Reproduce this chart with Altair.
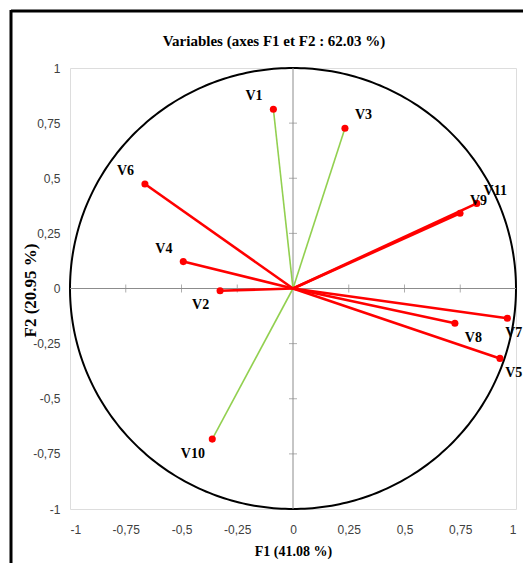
import altair as alt
import pandas as pd
import numpy as np

# ---- data ----
names = ["V1", "V2", "V3", "V4", "V5", "V6", "V7", "V8", "V9", "V10", "V11"]
f1 = [-0.088, -0.327, 0.233, -0.492, 0.928, -0.664, 0.961, 0.726, 0.749, -0.362, 0.824]
f2 = [0.813, -0.010, 0.727, 0.122, -0.317, 0.474, -0.135, -0.158, 0.341, -0.683, 0.386]
kind = ["g", "r", "g", "r", "r", "r", "r", "r", "r", "g", "r"]
axis_ticks = [-1, -0.75, -0.5, -0.25, 0, 0.25, 0.5, 0.75, 1]
inner_ticks = [-0.75, -0.5, -0.25, 0.25, 0.5, 0.75]

title = "Variables (axes F1 et F2 : 62.03 %)"
x_title = "F1 (41.08 %)"
y_title = "F2 (20.95 %)"

df = pd.DataFrame({"name": names, "f1": f1, "f2": f2, "kind": kind})

# unit circle (geometric reference, not data)
theta = np.linspace(0, 2 * np.pi, 361)
circle = pd.DataFrame({"cx": np.cos(theta), "cy": np.sin(theta), "o": np.arange(361)})
ticks_df = pd.DataFrame({"t": inner_ticks})

serif = "Liberation Serif"
sans = "Liberation Sans Narrow, Liberation Sans, Arial"
lab_expr = "replace(toString(datum.value), '.', ',')"

xscale = alt.Scale(domain=[-1, 1], nice=False, zero=False)
yscale = alt.Scale(domain=[-1, 1], nice=False, zero=False)

xaxis = alt.Axis(values=axis_ticks, labelExpr=lab_expr, grid=False, ticks=False, tickSize=0,
                 domain=False, labelPadding=20, labelBaseline="middle", labelFont=sans,
                 labelFontSize=12, labelColor="#404040", title=x_title, titleFont=serif,
                 titleFontSize=14, titleFontWeight="bold", titleColor="black",
                 titleX=223, titleY=42, titleBaseline="middle", titleAlign="center")
yaxis = alt.Axis(values=axis_ticks, labelExpr=lab_expr, grid=False, ticks=False, tickSize=0,
                 domain=False, labelPadding=10, labelFont=sans, labelFontSize=12,
                 labelColor="#404040", title=y_title, titleFont=serif, titleFontSize=17,
                 titleFontWeight="bold", titleColor="black", titleAngle=270,
                 titleX=-40, titleY=222, titleBaseline="middle", titleAlign="center")

X = alt.X("cx:Q", scale=xscale, axis=xaxis)
Y = alt.Y("cy:Q", scale=yscale, axis=yaxis)

circ = alt.Chart(circle).mark_line(color="black", strokeWidth=2).encode(
    x=X, y=Y, order="o:Q")

zero_v = alt.Chart(alt.Data(values=[{}])).mark_rule(color="#8c8c8c", strokeWidth=1).encode(
    x=alt.datum(0, scale=xscale))
zero_h = alt.Chart(alt.Data(values=[{}])).mark_rule(color="#8c8c8c", strokeWidth=1).encode(
    y=alt.datum(0, scale=yscale))

ticks_h = alt.Chart(ticks_df).mark_tick(orient="vertical", size=8, thickness=1, color="#8c8c8c").encode(
    x=alt.X("t:Q", scale=xscale), y=alt.datum(0, scale=yscale))
ticks_v = alt.Chart(ticks_df).mark_tick(orient="horizontal", size=8, thickness=1, color="#8c8c8c").encode(
    y=alt.Y("t:Q", scale=yscale), x=alt.datum(0, scale=xscale))

base = alt.Chart(df).transform_calculate(x0="0", y0="0")

green = base.transform_filter("datum.kind == 'g'").mark_rule(color="#92D050", strokeWidth=1.6).encode(
    x=alt.X("x0:Q", scale=xscale), y=alt.Y("y0:Q", scale=yscale), x2="f1:Q", y2="f2:Q")
red = base.transform_filter("datum.kind == 'r'").mark_rule(color="#FF0000", strokeWidth=2.6).encode(
    x=alt.X("x0:Q", scale=xscale), y=alt.Y("y0:Q", scale=yscale), x2="f1:Q", y2="f2:Q")

pts = alt.Chart(df).mark_point(filled=True, color="#FF0000", size=50, opacity=1, shape="circle").encode(
    x=alt.X("f1:Q", scale=xscale), y=alt.Y("f2:Q", scale=yscale))

labels = alt.Chart(df).transform_calculate(
    lx="min(datum.f1 + (datum.f1 >= 0 ? 0.083 : -0.087), 0.99)",
    ly="datum.f2 + (datum.f2 >= 0 ? 0.058 : -0.066)",
).mark_text(font=serif, fontSize=14, fontWeight="bold", color="black").encode(
    x=alt.X("lx:Q", scale=xscale), y=alt.Y("ly:Q", scale=yscale), text="name:N")

# chart title (centred on the outer frame, as in the reference)
title_mark = alt.Chart(alt.Data(values=[{"t": title}])).mark_text(
    font=serif, fontSize=15, fontWeight="bold", color="black", align="center", baseline="middle"
).encode(x=alt.value(204), y=alt.value(-27), text="t:N")

# outer frame (only top and left sides are visible in the reference)
frame_top = alt.Chart(alt.Data(values=[{}])).mark_rule(color="black", strokeWidth=3).encode(
    x=alt.value(-59), x2=alt.value(470), y=alt.value(-57))
frame_left = alt.Chart(alt.Data(values=[{}])).mark_rule(color="black", strokeWidth=3).encode(
    x=alt.value(-59), y=alt.value(-58), y2=alt.value(500))

chart = alt.layer(
    circ, zero_v, zero_h, ticks_h, ticks_v, green, red, pts, labels, title_mark,
    frame_top, frame_left
).properties(
    width=446, height=441,
    padding={"left": 62, "top": 60, "right": 7, "bottom": 54},
    autosize=alt.AutoSizeParams(type="none"),
).configure_view(stroke="#a6a6a6", strokeWidth=1).configure(background="white")

chart.save("out.html", embed_options={"renderer": "svg", "actions": False})
